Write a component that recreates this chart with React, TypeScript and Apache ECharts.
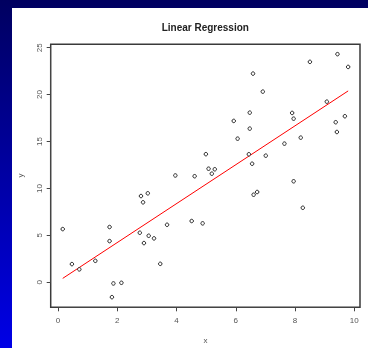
import React, { useEffect, useRef } from "react";
import * as echarts from "echarts";

const xValues = [
  6.58, 6.91, 8.5, 9.43, 9.79, 6.47, 5.93, 6.47, 6.06, 7.9,
  7.95, 9.07, 9.68, 9.37, 9.41, 8.19, 7.64, 6.44, 7.01, 6.55,
  4.99, 5.08, 5.29, 5.19, 3.96, 4.61, 2.8, 3.03, 2.87, 0.16,
  1.74, 1.74, 2.76, 3.06, 3.24, 2.9, 3.68, 4.51, 4.88, 0.47,
  0.72, 1.26, 3.45, 1.87, 2.14, 1.82, 7.95, 6.6, 6.72, 8.26,
];
const yValues = [
  22.24, 20.32, 23.49, 24.31, 22.95, 18.08, 17.2, 16.38, 15.31, 18.05,
  17.44, 19.25, 17.7, 17.06, 16.02, 15.42, 14.78, 13.65, 13.5, 12.64,
  13.66, 12.11, 12.05, 11.58, 11.39, 11.31, 9.2, 9.49, 8.53, 5.68,
  5.9, 4.4, 5.29, 4.97, 4.69, 4.19, 6.14, 6.54, 6.29, 1.95,
  1.39, 2.3, 1.98, -0.11, -0.04, -1.57, 10.77, 9.34, 9.63, 7.95,
];
const fitIntercept = 0.1;
const fitSlope = 2.073;
const xTicks = [0, 2, 4, 6, 8, 10];
const yTicks = [0, 5, 10, 15, 20, 25];
const titleText = "Linear Regression";
const xName = "x";
const yName = "y";

const FONT = "'Liberation Sans', Arial, Helvetica, sans-serif";

export default function App() {
  const ref = useRef<HTMLDivElement>(null);
  useEffect(() => {
    if (!ref.current) return;
    const chart = echarts.init(ref.current, undefined, { renderer: "svg" });
    const points = xValues.map((x, i) => [x, yValues[i]]);
    const xMin = Math.min(...xValues);
    const xMax = Math.max(...xValues);
    const fitLine = [
      [xMin, fitIntercept + fitSlope * xMin],
      [xMax, fitIntercept + fitSlope * xMax],
    ];
    const xStep = xTicks[1] - xTicks[0];
    const yStep = yTicks[1] - yTicks[0];
    const axisColor = "#444";
    const labelColor = "#555";
    chart.setOption({
      animation: false,
      graphic: [
        {
          type: "rect",
          z: -20,
          shape: { x: 0, y: 0, width: 368, height: 348 },
          style: {
            fill: new echarts.graphic.LinearGradient(0, 0, 0, 1, [
              { offset: 0, color: "#000060" },
              { offset: 1, color: "#0000e6" },
            ]),
          },
        },
        {
          type: "rect",
          z: -19,
          shape: { x: 12, y: 8, width: 356, height: 340 },
          style: { fill: "#ffffff" },
        },
        {
          type: "text",
          x: 205.3,
          y: 27.7,
          style: {
            text: titleText,
            fontFamily: FONT,
            fontSize: 10,
            fontWeight: "bold",
            fill: "#222",
            align: "center",
            verticalAlign: "middle",
          },
        },
        {
          type: "text",
          x: 205.5,
          y: 340,
          style: {
            text: xName,
            fontFamily: FONT,
            fontSize: 8,
            fill: labelColor,
            align: "center",
            verticalAlign: "middle",
          },
        },
        {
          type: "text",
          x: 20.7,
          y: 175.5,
          rotation: Math.PI / 2,
          style: {
            text: yName,
            fontFamily: FONT,
            fontSize: 8,
            fill: labelColor,
            align: "center",
            verticalAlign: "middle",
          },
        },
      ],
      grid: [
        {
          left: 50.7,
          top: 44.3,
          width: 309.3,
          height: 263,
          show: true,
          borderColor: "#3a3a3a",
          borderWidth: 1.5,
          backgroundColor: "transparent",
        },
        {
          left: 58,
          top: 47.7,
          width: 296.3,
          height: 234.6,
          show: false,
        },
      ],
      xAxis: [
        {
          gridIndex: 0,
          type: "value",
          min: -0.246,
          max: 10.19,
          show: false,
        },
        {
          gridIndex: 1,
          type: "value",
          min: xTicks[0],
          max: xTicks[xTicks.length - 1],
          interval: xStep,
          position: "bottom",
          offset: 25,
          axisLine: { show: true, onZero: false, lineStyle: { color: axisColor, width: 1 } },
          axisTick: { show: true, length: 4, lineStyle: { color: axisColor, width: 1 } },
          axisLabel: {
            fontFamily: FONT,
            fontSize: 8,
            color: labelColor,
            margin: 9,
          },
          splitLine: { show: false },
        },
      ],
      yAxis: [
        {
          gridIndex: 0,
          type: "value",
          min: -2.65,
          max: 25.36,
          show: false,
        },
        {
          gridIndex: 1,
          type: "value",
          min: yTicks[0],
          max: yTicks[yTicks.length - 1],
          interval: yStep,
          position: "left",
          offset: 7.3,
          axisLine: { show: true, onZero: false, lineStyle: { color: axisColor, width: 1 } },
          axisTick: { show: true, length: 4, lineStyle: { color: axisColor, width: 1 } },
          axisLabel: {
            fontFamily: FONT,
            fontSize: 8,
            color: labelColor,
            margin: 7,
            rotate: 90,
          },
          splitLine: { show: false },
        },
      ],
      series: [
        {
          type: "scatter",
          xAxisIndex: 0,
          yAxisIndex: 0,
          data: points,
          symbol: "circle",
          symbolSize: 3.5,
          itemStyle: { color: "#ffffff", borderColor: "#222", borderWidth: 1, opacity: 1 },
          z: 3,
        },
        {
          type: "line",
          xAxisIndex: 0,
          yAxisIndex: 0,
          data: fitLine,
          showSymbol: false,
          symbol: "none",
          lineStyle: { color: "#ff0000", width: 1 },
          z: 2,
        },
      ],
    });
    return () => chart.dispose();
  }, []);
  return (
    <div
      ref={ref}
      style={{ position: "fixed", left: 0, top: 0, width: 368, height: 348 }}
    />
  );
}
